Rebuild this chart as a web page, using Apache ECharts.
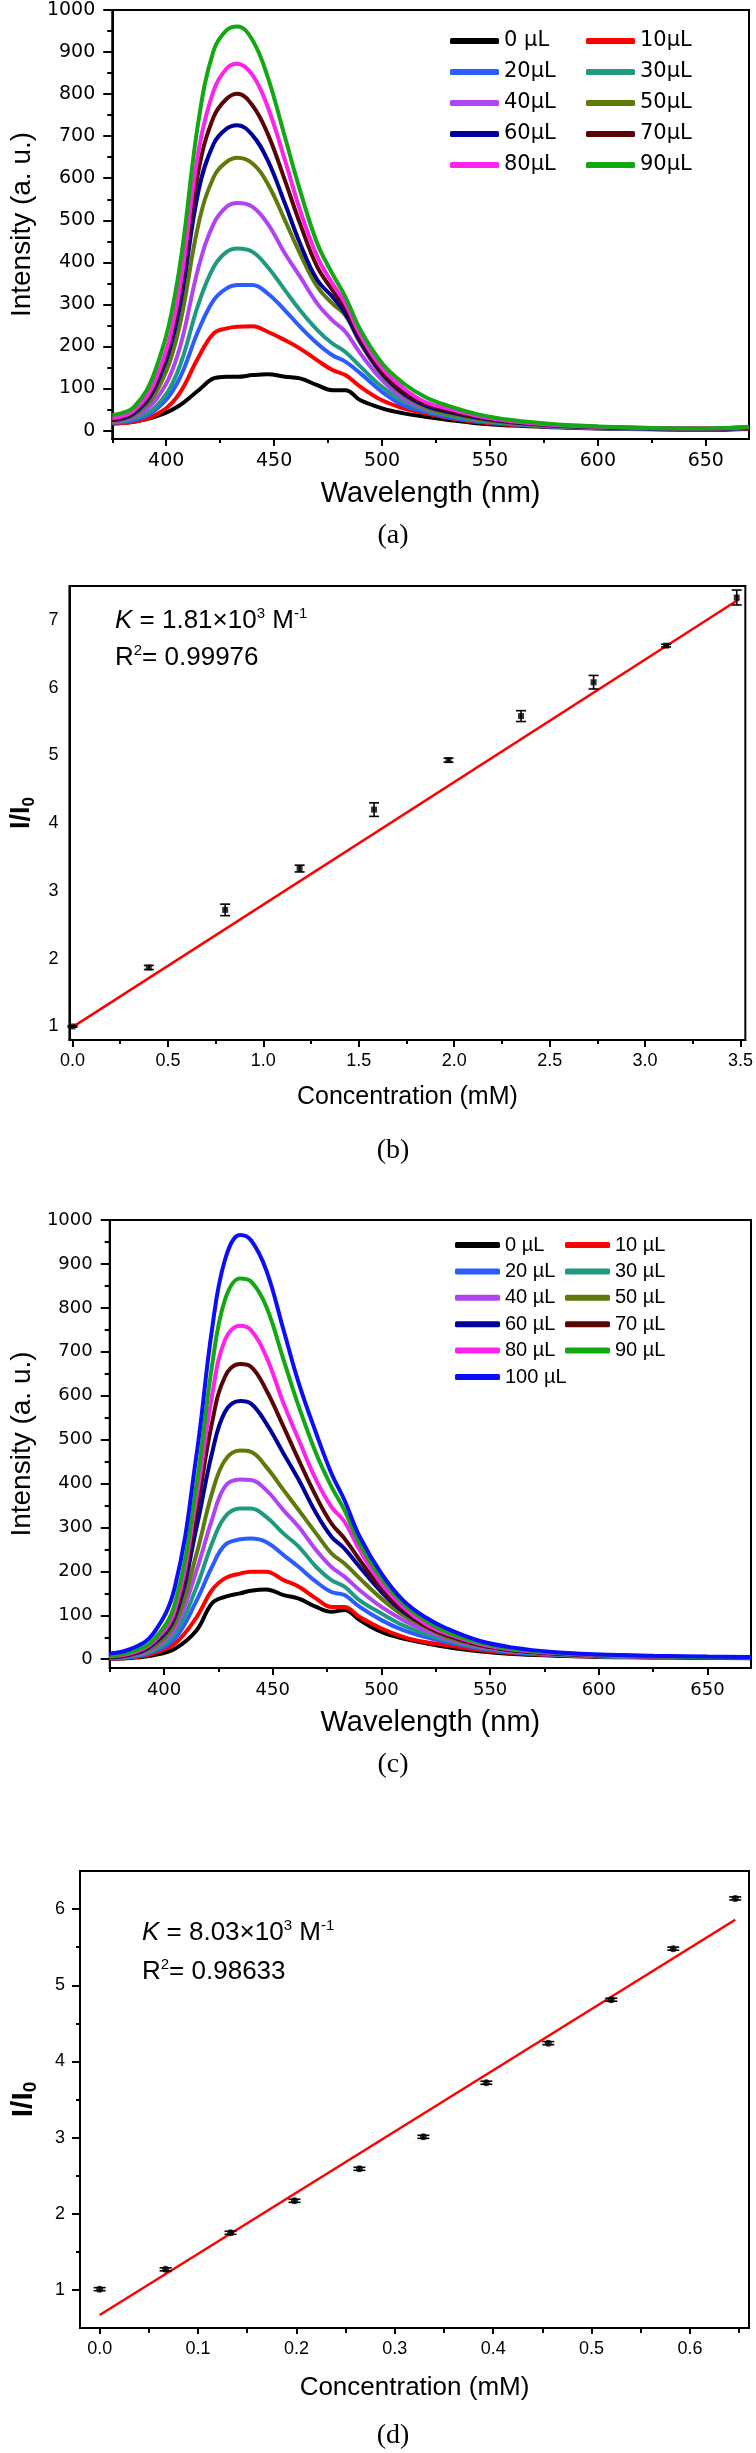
<!DOCTYPE html>
<html>
<head>
<meta charset="utf-8">
<script src="https://cdn.jsdelivr.net/npm/echarts@6/dist/echarts.min.js"></script>
<style>
html, body { margin: 0; padding: 0; background: #fff; }
.panel { position: absolute; left: 0; width: 756px; }
</style>
</head>
<body>
<div id="chartA" class="panel" style="top:0;height:560px"></div>
<div id="chartB" class="panel" style="top:560px;height:605px"></div>
<div id="chartC" class="panel" style="top:1165px;height:625px"></div>
<div id="chartD" class="panel" style="top:1790px;height:663px"></div>
<script>
// ---- panel (a): emission spectra, 0-90 uL ----
var wlA = [375, 385, 395, 405, 415, 422, 428, 433, 440, 447, 455, 462, 470, 477, 483, 490, 500, 510, 520, 530, 545, 560, 580, 600, 625, 650, 670];
var a0  = [17, 21, 33, 56, 96, 124, 128, 128, 132, 134, 128, 124, 108, 96, 96, 72, 53, 41, 33, 26, 17, 12, 8, 5, 3, 2, 4];
var a10 = [17, 21, 37, 80, 175, 231, 243, 247, 248, 235, 215, 195, 167, 144, 132, 104, 72, 53, 41, 31, 20, 14, 9, 6, 4, 3, 5];
var a20 = [19, 25, 49, 112, 239, 310, 338, 346, 346, 326, 286, 247, 207, 179, 164, 136, 92, 60, 45, 33, 22, 15, 9, 6, 4, 3, 6];
var a30 = [19, 29, 56, 136, 302, 389, 425, 433, 425, 389, 334, 286, 239, 207, 187, 152, 104, 69, 49, 37, 24, 16, 10, 7, 5, 4, 6];
var a40 = [21, 33, 72, 175, 389, 492, 532, 541, 532, 492, 421, 366, 302, 262, 235, 183, 120, 76, 53, 41, 27, 18, 11, 7, 5, 4, 6];
var a50 = [23, 37, 88, 223, 492, 603, 639, 649, 635, 587, 500, 421, 342, 302, 274, 207, 132, 84, 56, 41, 27, 18, 11, 8, 5, 4, 7];
var a60 = [25, 41, 104, 262, 571, 682, 718, 726, 702, 643, 540, 445, 358, 318, 278, 211, 136, 88, 60, 45, 30, 20, 12, 8, 5, 4, 7];
var a70 = [26, 45, 112, 286, 619, 746, 789, 801, 773, 706, 595, 492, 389, 334, 290, 219, 140, 92, 64, 49, 32, 21, 13, 9, 6, 5, 8];
var a80 = [29, 48, 120, 302, 666, 809, 861, 872, 845, 770, 643, 524, 413, 350, 302, 227, 148, 100, 68, 53, 34, 22, 13, 9, 6, 5, 8];
var a90 = [37, 56, 144, 350, 738, 904, 952, 961, 928, 841, 698, 571, 445, 373, 318, 239, 160, 112, 80, 60, 38, 25, 15, 10, 6, 5, 9];
var namesA = ['0 µL', '10µL', '20µL', '30µL', '40µL', '50µL', '60µL', '70µL', '80µL', '90µL'];

// ---- panel (b): I/I0 vs concentration ----
var concB  = [0, 0.40, 0.80, 1.19, 1.58, 1.97, 2.35, 2.73, 3.11, 3.48];
var ratioB = [1.00, 1.87, 2.72, 3.33, 4.20, 4.93, 5.58, 6.08, 6.62, 7.33];
var errB   = [0.01, 0.03, 0.085, 0.05, 0.10, 0.03, 0.08, 0.10, 0.02, 0.11];
var fitBx  = [0, 3.49];
var fitBy  = [0.99, 7.30];
var xLabelsB = [0, 0.5, 1, 1.5, 2, 2.5, 3, 3.5];
var yLabelsB = [1, 2, 3, 4, 5, 6, 7];

// ---- panel (c): emission spectra, 0-100 uL ----
var wlC  = [375, 385, 395, 405, 415, 422, 428, 435, 440, 447, 455, 462, 470, 477, 483, 490, 500, 510, 520, 530, 545, 560, 580, 600, 625, 650, 670];
var c0   = [1, 3, 9, 24, 66, 127, 142, 150, 156, 159, 146, 138, 119, 108, 112, 89, 62, 47, 37, 28, 18, 12, 8, 5, 4, 3, 2];
var c10  = [2, 4, 13, 36, 96, 157, 184, 195, 199, 199, 180, 165, 138, 119, 119, 96, 70, 51, 39, 32, 21, 14, 9, 6, 4, 3, 3];
var c20  = [2, 5, 17, 47, 134, 210, 260, 273, 275, 267, 237, 210, 176, 153, 146, 119, 89, 66, 51, 39, 25, 16, 10, 7, 5, 3, 3];
var c30  = [3, 7, 20, 58, 165, 263, 324, 343, 343, 324, 286, 256, 210, 180, 165, 134, 104, 77, 58, 43, 27, 18, 11, 7, 5, 4, 3];
var c40  = [3, 8, 24, 70, 203, 317, 393, 409, 408, 385, 339, 301, 248, 210, 188, 157, 119, 89, 66, 47, 29, 19, 12, 8, 5, 4, 3];
var c50  = [4, 9, 28, 81, 241, 377, 453, 475, 472, 438, 385, 339, 286, 241, 218, 184, 138, 100, 74, 51, 31, 20, 12, 8, 6, 4, 4];
var c60  = [5, 11, 34, 96, 301, 468, 563, 588, 582, 537, 468, 408, 332, 279, 252, 210, 153, 108, 77, 55, 33, 21, 13, 9, 6, 4, 4];
var c70  = [5, 13, 37, 104, 339, 537, 643, 672, 666, 613, 529, 453, 370, 309, 275, 226, 161, 112, 77, 55, 33, 21, 13, 9, 6, 5, 4];
var c80  = [7, 14, 39, 112, 370, 598, 727, 759, 749, 689, 582, 499, 408, 347, 313, 248, 172, 119, 81, 58, 35, 22, 14, 9, 6, 5, 4];
var c90  = [9, 17, 43, 127, 400, 666, 818, 867, 860, 803, 681, 575, 468, 393, 339, 263, 184, 127, 89, 62, 38, 24, 15, 10, 7, 5, 5];
var c100 = [13, 24, 58, 165, 468, 749, 909, 966, 954, 886, 749, 628, 514, 423, 362, 279, 195, 134, 96, 70, 42, 27, 16, 11, 8, 6, 5];
var namesC = ['0 µL', '10 µL', '20 µL', '30 µL', '40 µL', '50 µL', '60 µL', '70 µL', '80 µL', '90 µL', '100 µL'];

// ---- panel (d): I/I0 vs concentration ----
var concD  = [0, 0.067, 0.133, 0.198, 0.264, 0.329, 0.393, 0.456, 0.520, 0.583, 0.646];
var ratioD = [1.01, 1.27, 1.75, 2.17, 2.59, 3.01, 3.72, 4.24, 4.81, 5.48, 6.14];
var errD   = [0.02, 0.02, 0.02, 0.02, 0.02, 0.02, 0.02, 0.02, 0.02, 0.02, 0.02];
var fitDx  = [0, 0.646];
var fitDy  = [0.67, 5.86];
var xLabelsD = [0, 0.1, 0.2, 0.3, 0.4, 0.5, 0.6];
var yLabelsD = [1, 2, 3, 4, 5, 6];

// shared tick labels of the spectra
var wlLabels = [400, 450, 500, 550, 600, 650];
var wlMinor = [375, 425, 475, 525, 575, 625];
var intLabels = [0, 100, 200, 300, 400, 500, 600, 700, 800, 900, 1000];
var intMinor = [50, 150, 250, 350, 450, 550, 650, 750, 850, 950];

var colors = ['#000000', '#ff0000', '#2a5cff', '#1f9a7f', '#b044f2', '#5f7a0a', '#00009c', '#5a0505', '#ff22ee', '#12a812', '#0c0cff'];

var SANS = 'Liberation Sans';
var WIDE = 'DejaVu Sans';
var SERIF = 'Liberation Serif';
var axisLine = { onZero: false, lineStyle: { color: '#000', width: 2 } };
var tickStyle = { color: '#000', width: 2 };

function pairs(xs, ys) {
    return xs.map(function (x, i) { return [x, ys[i]]; });
}

function plain(v) { return String(v); }

// an extra axis that only draws the short minor ticks
function minorAxis(pos, min, max, values, len) {
    return {
        type: 'value', position: pos, min: min, max: max,
        axisLine: { show: false, onZero: false },
        axisTick: { customValues: values, length: len, lineStyle: tickStyle },
        axisLabel: { show: false },
        splitLine: { show: false }
    };
}

function spectrumOption(o) {
    var series = o.sets.map(function (d, i) {
        return {
            name: o.names[i], type: 'line', data: pairs(o.wl, d),
            smooth: 0.4, symbol: 'none', color: colors[i],
            lineStyle: { width: 4, color: colors[i] }
        };
    });
    var col1 = o.names.filter(function (n, i) { return i % 2 === 0; });
    var col2 = o.names.filter(function (n, i) { return i % 2 === 1; });
    var legendBase = {
        orient: 'vertical', top: o.legendTop, itemWidth: o.legendW, itemHeight: 6,
        itemGap: o.legendGap, icon: 'roundRect', selectedMode: false, padding: 0,
        textStyle: { fontFamily: o.legendFont, fontSize: o.legendSize, lineHeight: 22, color: '#000' }
    };
    return {
        animation: false,
        grid: { left: o.grid.left, right: o.grid.right, top: o.grid.top, height: o.grid.height,
                show: true, borderColor: '#000', borderWidth: 2 },
        legend: [
            Object.assign({ left: o.legendX[0], data: col1 }, legendBase),
            Object.assign({ left: o.legendX[1], data: col2 }, legendBase)
        ],
        xAxis: [{
            type: 'value', position: 'bottom', min: 375, max: 670,
            axisLine: axisLine,
            axisTick: { customValues: wlLabels, length: 7, lineStyle: tickStyle },
            axisLabel: { customValues: wlLabels, margin: 13, color: '#000', fontFamily: WIDE, fontSize: o.tickSize, formatter: plain },
            splitLine: { show: false },
            name: 'Wavelength (nm)', nameLocation: 'middle', nameGap: 40,
            nameTextStyle: { fontFamily: SANS, fontSize: 29, color: '#000' }
        }, minorAxis('bottom', 375, 670, wlMinor, 4)],
        yAxis: [{
            type: 'value', position: 'left', min: -20, max: 1000,
            axisLine: axisLine,
            axisTick: { customValues: intLabels, length: 9, lineStyle: tickStyle },
            axisLabel: { customValues: intLabels, margin: 17, color: '#000', fontFamily: WIDE, fontSize: o.tickSize, formatter: plain },
            splitLine: { show: false },
            name: 'Intensity (a. u.)', nameLocation: 'middle', nameGap: o.yNameGap,
            nameTextStyle: { fontFamily: SANS, fontSize: 28, color: '#000' }
        }, minorAxis('left', -20, 1000, intMinor, 5)],
        graphic: [{
            type: 'text', x: 393, y: o.captionY,
            style: { text: o.caption, fontFamily: SERIF, fontSize: 28, fill: '#000', align: 'center', verticalAlign: 'middle' }
        }],
        series: series
    };
}

function errorBars(xs, ys, es, cap) {
    return {
        type: 'custom', data: xs.map(function (x, i) { return [x, ys[i], es[i]]; }),
        renderItem: function (params, api) {
            var x = api.value(0), y = api.value(1), e = api.value(2);
            var hi = api.coord([x, y + e]);
            var lo = api.coord([x, y - e]);
            var st = { stroke: '#000', lineWidth: 1.6 };
            return {
                type: 'group', children: [
                    { type: 'line', shape: { x1: hi[0], y1: hi[1], x2: lo[0], y2: lo[1] }, style: st },
                    { type: 'line', shape: { x1: hi[0] - cap, y1: hi[1], x2: hi[0] + cap, y2: hi[1] }, style: st },
                    { type: 'line', shape: { x1: lo[0] - cap, y1: lo[1], x2: lo[0] + cap, y2: lo[1] }, style: st }
                ]
            };
        },
        z: 3
    };
}

function ratioOption(o) {
    var ratioName = '{m|I/I}{s|0}';
    return {
        animation: false,
        grid: { left: o.grid.left, right: o.grid.right, top: o.grid.top, height: o.grid.height,
                show: true, borderColor: '#000', borderWidth: 2 },
        xAxis: [{
            type: 'value', position: 'bottom', min: o.xMin, max: o.xMax,
            axisLine: axisLine,
            axisTick: { customValues: o.xLabels, length: o.xTickLen, lineStyle: tickStyle },
            axisLabel: { customValues: o.xLabels, margin: 12, color: '#000', fontFamily: SANS, fontSize: 18,
                         formatter: function (v) { return v.toFixed(1); } },
            splitLine: { show: false },
            name: 'Concentration (mM)', nameLocation: 'middle', nameGap: o.xNameGap,
            nameTextStyle: { fontFamily: SANS, fontSize: o.xNameSize, color: '#000' }
        }, minorAxis('bottom', o.xMin, o.xMax, o.xMinor, o.xMinorLen)],
        yAxis: [{
            type: 'value', position: 'left', min: o.yMin, max: o.yMax,
            axisLine: axisLine,
            axisTick: { show: o.yTicks, customValues: o.yLabels, length: 8, lineStyle: tickStyle },
            axisLabel: { customValues: o.yLabels, margin: o.yLabelMargin, color: '#000', fontFamily: SANS, fontSize: 18, formatter: plain },
            splitLine: { show: false },
            name: ratioName, nameLocation: 'middle', nameGap: o.yNameGap,
            nameTextStyle: { rich: {
                m: { fontFamily: SANS, fontSize: o.yNameSize, fontWeight: 'bold', color: '#000', lineHeight: 32 },
                s: { fontFamily: SANS, fontSize: Math.round(o.yNameSize * 0.62), fontWeight: 'bold', color: '#000', lineHeight: 20, verticalAlign: 'bottom' }
            } }
        }, minorAxis('left', o.yMin, o.yMax, o.yMinor, o.yTicks ? 4 : 0)],
        graphic: [{
            type: 'text', x: o.noteX, y: o.noteY[0],
            style: {
                text: '{k|K}{t| = ' + o.kText + '×10}{s|3}{t| M}{s|-1}',
                verticalAlign: 'middle',
                rich: {
                    k: { fontFamily: SANS, fontSize: 26, fontStyle: 'italic', fill: '#000', lineHeight: 30 },
                    t: { fontFamily: SANS, fontSize: 26, fill: '#000', lineHeight: 30 },
                    s: { fontFamily: SANS, fontSize: 15, fill: '#000', lineHeight: 16, verticalAlign: 'top' }
                }
            }
        }, {
            type: 'text', x: o.noteX, y: o.noteY[1],
            style: {
                text: '{t|R}{s|2}{t|= ' + o.r2Text + '}',
                verticalAlign: 'middle',
                rich: {
                    t: { fontFamily: SANS, fontSize: 26, fill: '#000', lineHeight: 30 },
                    s: { fontFamily: SANS, fontSize: 15, fill: '#000', lineHeight: 16, verticalAlign: 'top' }
                }
            }
        }, {
            type: 'text', x: 393, y: o.captionY,
            style: { text: o.caption, fontFamily: SERIF, fontSize: 28, fill: '#000', align: 'center', verticalAlign: 'middle' }
        }],
        series: [{
            type: 'line', data: pairs(o.fitX, o.fitY), symbol: 'none',
            lineStyle: { color: '#ff0000', width: 2.5 }, z: 2
        }, errorBars(o.conc, o.ratio, o.err, o.cap), {
            type: 'scatter', data: pairs(o.conc, o.ratio), symbol: o.symbol, symbolSize: o.symbolSize,
            itemStyle: { color: '#000' }, z: 4
        }]
    };
}

var chartA = echarts.init(document.getElementById('chartA'));
chartA.setOption(spectrumOption({
    wl: wlA, sets: [a0, a10, a20, a30, a40, a50, a60, a70, a80, a90], names: namesA,
    grid: { left: 106, right: 7, top: 10, height: 429 },
    legendX: [450, 586], legendTop: 30, legendW: 49, legendGap: 9, legendFont: WIDE, legendSize: 21,
    tickSize: 19, yNameGap: 68, caption: '(a)', captionY: 536
}));

var chartB = echarts.init(document.getElementById('chartB'));
chartB.setOption(ratioOption({
    grid: { left: 59, right: 9, top: 26, height: 454 },
    xMin: -0.016, xMax: 3.525, xLabels: xLabelsB, xTickLen: 7,
    xMinor: [0.25, 0.75, 1.25, 1.75, 2.25, 2.75, 3.25], xMinorLen: 4,
    xNameGap: 45, xNameSize: 25,
    yMin: 0.8, yMax: 7.5, yLabels: yLabelsB, yMinor: [], yTicks: false, yLabelMargin: 11,
    yNameGap: 30, yNameSize: 27,
    conc: concB, ratio: ratioB, err: errB, cap: 5, symbol: 'rect', symbolSize: 6,
    fitX: fitBx, fitY: fitBy,
    noteX: 115, noteY: [61, 98], kText: '1.81', r2Text: '0.99976',
    caption: '(b)', captionY: 591
}));

var chartC = echarts.init(document.getElementById('chartC'));
chartC.setOption(spectrumOption({
    wl: wlC, sets: [c0, c10, c20, c30, c40, c50, c60, c70, c80, c90, c100], names: namesC,
    grid: { left: 99, right: 5, top: 55, height: 448 },
    legendX: [455, 565], legendTop: 69, legendW: 45, legendGap: 4.4, legendFont: SANS, legendSize: 20,
    tickSize: 18, yNameGap: 62, caption: '(c)', captionY: 600
}));

var chartD = echarts.init(document.getElementById('chartD'));
chartD.setOption(ratioOption({
    grid: { left: 80, right: 7, top: 81, height: 457 },
    xMin: -0.02, xMax: 0.66, xLabels: xLabelsD, xTickLen: 6,
    xMinor: [0.05, 0.15, 0.25, 0.35, 0.45, 0.55, 0.65], xMinorLen: 5,
    xNameGap: 47, xNameSize: 26,
    yMin: 0.5, yMax: 6.5, yLabels: yLabelsD, yMinor: [1.5, 2.5, 3.5, 4.5, 5.5], yTicks: true, yLabelMargin: 15,
    yNameGap: 40, yNameSize: 30,
    conc: concD, ratio: ratioD, err: errD, cap: 6, symbol: 'circle', symbolSize: 7,
    fitX: fitDx, fitY: fitDy,
    noteX: 142, noteY: [143, 182], kText: '8.03', r2Text: '0.98633',
    caption: '(d)', captionY: 646
}));
</script>
</body>
</html>
